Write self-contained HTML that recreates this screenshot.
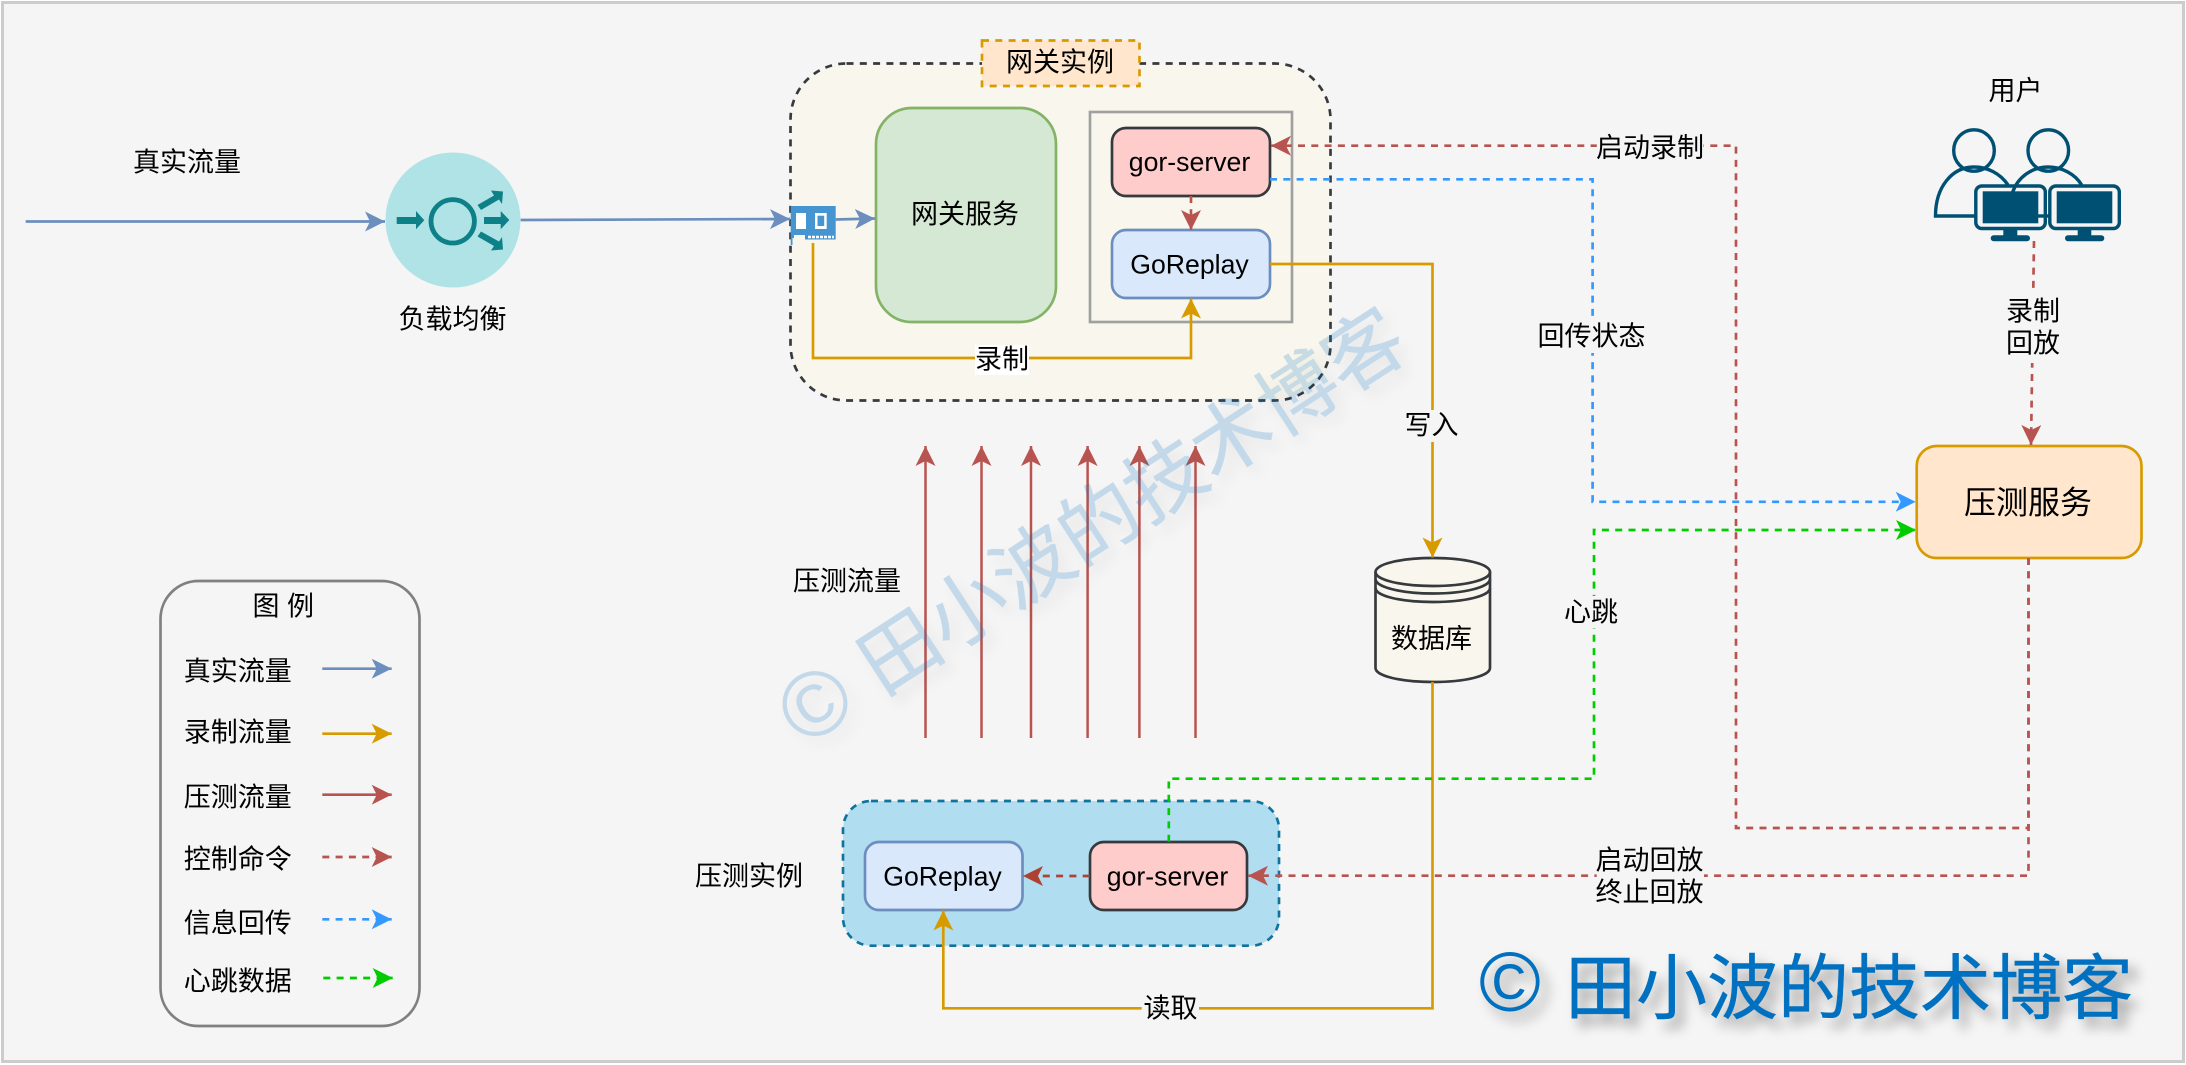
<!DOCTYPE html>
<html><head><meta charset="utf-8"><style>
html,body{margin:0;padding:0;background:#fff}
svg{display:block}
text{font-family:"Liberation Sans","Noto Sans CJK SC",sans-serif;font-size:27px;fill:#000;text-anchor:middle}
text.en{font-size:26.67px}
</style></head><body>
<svg width="2186" height="1065" viewBox="0 0 2186 1065" xmlns="http://www.w3.org/2000/svg">
<defs>
<marker id="mb" markerUnits="userSpaceOnUse" markerWidth="20" markerHeight="20" refX="20" refY="10" orient="auto"><path d="M0,0L20,10L0,20L5,10z" fill="#6c8ebf"/></marker>
<marker id="mo" markerUnits="userSpaceOnUse" markerWidth="20" markerHeight="20" refX="20" refY="10" orient="auto"><path d="M0,0L20,10L0,20L5,10z" fill="#d79b00"/></marker>
<marker id="mr" markerUnits="userSpaceOnUse" markerWidth="20" markerHeight="20" refX="20" refY="10" orient="auto"><path d="M0,0L20,10L0,20L5,10z" fill="#b85450"/></marker>
<marker id="md" markerUnits="userSpaceOnUse" markerWidth="20" markerHeight="20" refX="20" refY="10" orient="auto"><path d="M0,0L20,10L0,20L5,10z" fill="#ae4132"/></marker>
<marker id="ml" markerUnits="userSpaceOnUse" markerWidth="20" markerHeight="20" refX="20" refY="10" orient="auto"><path d="M0,0L20,10L0,20L5,10z" fill="#3399ff"/></marker>
<marker id="mg" markerUnits="userSpaceOnUse" markerWidth="20" markerHeight="20" refX="20" refY="10" orient="auto"><path d="M0,0L20,10L0,20L5,10z" fill="#00cc00"/></marker>
</defs>
<rect x="2.5" y="2.5" width="2181" height="1059" fill="#f5f5f5" stroke="#ccc" stroke-width="3"/>

<!-- Gateway container -->
<rect x="790.5" y="63.5" width="540" height="337" rx="56" fill="#f9f7ed" stroke="#36393d" stroke-width="2.67" stroke-dasharray="7 6.3"/>
<rect x="982" y="40.5" width="157.5" height="45.5" fill="#ffe6cc" stroke="#d79b00" stroke-width="2.67" stroke-dasharray="7 6.3"/>
<text x="1060" y="71.5">网关实例</text>
<rect x="876" y="108" width="180" height="214" rx="36" fill="#d5e8d4" stroke="#82b366" stroke-width="2.67"/>
<text x="965" y="223.5">网关服务</text>
<rect x="1090" y="112" width="202" height="210" fill="none" stroke="#a0a0a0" stroke-width="2.67"/>
<rect x="1112" y="128" width="158" height="68" rx="14" fill="#ffcccc" stroke="#36393d" stroke-width="2.67"/>
<text class="en" x="1189.5" y="171">gor-server</text>
<rect x="1112" y="230" width="158" height="68" rx="14" fill="#dae8fc" stroke="#6c8ebf" stroke-width="2.67"/>
<text class="en" x="1189.5" y="273.5">GoReplay</text>

<!-- Load test instance -->
<rect x="843" y="801" width="436" height="144.7" rx="28" fill="#b1ddf0" stroke="#10739e" stroke-width="2.67" stroke-dasharray="7 6.3"/>
<rect x="865" y="842" width="157.5" height="68" rx="14" fill="#dae8fc" stroke="#6c8ebf" stroke-width="2.67"/>
<text class="en" x="942.5" y="885.5">GoReplay</text>
<rect x="1090" y="842" width="157" height="68" rx="14" fill="#ffcccc" stroke="#36393d" stroke-width="2.67"/>
<text class="en" x="1167.5" y="885.5">gor-server</text>
<text x="749" y="885.5">压测实例</text>

<!-- Press service -->
<rect x="1916.7" y="446" width="224.8" height="112" rx="20" fill="#ffe6cc" stroke="#d79b00" stroke-width="2.67"/>
<text x="2028" y="513.5" style="font-size:32px">压测服务</text>

<!-- DB -->
<path d="M1375.5,572C1375.5,564 1401,558 1433,558C1465,558 1490,564 1490,572V668C1490,676 1465,682 1433,682C1401,682 1375.5,676 1375.5,668Z" fill="#f9f7ed" stroke="#36393d" stroke-width="2.67"/>
<path d="M1375.5,572C1375.5,580 1401,586 1433,586C1465,586 1490,580 1490,572M1375.5,579C1375.5,587 1401,593.5 1433,593.5C1465,593.5 1490,587 1490,579M1375.5,588C1375.5,596 1401,602 1433,602C1465,602 1490,596 1490,588" fill="none" stroke="#36393d" stroke-width="2.67"/>
<text x="1431.5" y="648">数据库</text>

<!-- Load balancer -->
<circle cx="453" cy="220" r="67.5" fill="#b0e3e6"/>
<circle cx="452.7" cy="221.3" r="21.7" fill="none" stroke="#0e8088" stroke-width="4.8"/>
<path d="M396.7,217H416V211L424.3,220.3L416,229.3V224H396.7Z" fill="#0e8088"/>
<path d="M484,217H500.7V211L509.3,220L500.7,229.3V224H484Z" fill="#0e8088"/>
<path d="M477.5,205L494,195.5L491,190.5L503,191.5L502,204L499,199.5L481,210Z" fill="#0e8088"/>
<path d="M481,231.5L499,241.5L502,237L503,249.5L491,250.5L494,246L477.5,236.5Z" fill="#0e8088"/>

<!-- NIC -->
<path d="M790.7,206H835.7V239.5H805V235H794V238H792.5V245H790.7Z" fill="#4495d1"/>
<rect x="796" y="213" width="10" height="16" fill="#fff"/>
<rect x="815" y="213" width="11.7" height="16" fill="#fff"/>
<rect x="817.5" y="215.7" width="6.7" height="10.3" fill="#4495d1"/>
<path d="M808,237H834" stroke="#fff" stroke-width="2.4" stroke-dasharray="3 1" fill="none"/>

<!-- Real traffic -->
<g fill="none" stroke="#6c8ebf" stroke-width="2.67">
<path d="M25.7,221.5H385" marker-end="url(#mb)"/>
<path d="M520.7,220L790,219" marker-end="url(#mb)"/>
<path d="M835.7,219.5L875,218.5" marker-end="url(#mb)"/>
</g>

<!-- Record traffic -->
<g fill="none" stroke="#d79b00" stroke-width="2.67">
<path d="M813,243V358H1191V298.5" marker-end="url(#mo)"/>
<path d="M1270,264H1432.5V557.5" marker-end="url(#mo)"/>
<path d="M1432.5,682V1008.3H943.3V910.5" marker-end="url(#mo)"/>
</g>

<!-- Press arrows -->
<g fill="none" stroke="#b85450" stroke-width="2.5">
<path d="M925.5,738V446" marker-end="url(#mr)"/>
<path d="M981.5,738V446" marker-end="url(#mr)"/>
<path d="M1031,738V446" marker-end="url(#mr)"/>
<path d="M1087.6,738V446" marker-end="url(#mr)"/>
<path d="M1139.4,738V446" marker-end="url(#mr)"/>
<path d="M1195.5,738V446" marker-end="url(#mr)"/>
</g>
<text x="847" y="590.3">压测流量</text>

<!-- Dashed control -->
<g fill="none" stroke-width="2.67" stroke-dasharray="7 6.3">
<path d="M2028.5,558V828H1736V145.7H1271" stroke="#b85450" marker-end="url(#mr)"/>
<path d="M2028.5,558V875.7H1248" stroke="#b85450" marker-end="url(#mr)"/>
<path d="M2034,241L2031,445" stroke="#b85450" marker-end="url(#mr)"/>
<path d="M1191,196V230" stroke="#b85450" marker-end="url(#mr)"/>
<path d="M1089.7,876H1023" stroke="#ae4132" marker-end="url(#md)"/>
<path d="M1270,179.3H1592.6V501.8H1915.7" stroke="#3399ff" marker-end="url(#ml)"/>
<path d="M1168.8,841.7V778.7H1594V530H1916" stroke="#00cc00" marker-end="url(#mg)"/>
</g>

<!-- Edge labels -->
<rect x="975" y="345" width="54" height="30" fill="#fff"/>
<text x="1002" y="368.5">录制</text>
<rect x="1405" y="410" width="55" height="32" fill="#f5f5f5"/>
<text x="1431.5" y="434.5">写入</text>
<rect x="1141.7" y="993" width="57.3" height="30" fill="#f5f5f5"/>
<text x="1170.5" y="1017.3">读取</text>
<rect x="1596.8" y="130" width="106.7" height="32" fill="#f5f5f5"/>
<text x="1650" y="157">启动录制</text>
<rect x="1538.8" y="320" width="106.7" height="33" fill="#f5f5f5"/>
<text x="1591.5" y="345.4">回传状态</text>
<rect x="1564" y="596" width="54" height="32" fill="#f5f5f5"/>
<text x="1591" y="621.6">心跳</text>
<rect x="2006" y="289" width="56" height="74" fill="#f5f5f5"/>
<text x="2033" y="320.6">录制</text>
<text x="2033" y="352.3">回放</text>
<rect x="1596.7" y="845" width="107.3" height="62" fill="#f5f5f5"/>
<text x="1649.5" y="869.6">启动回放</text>
<text x="1649.5" y="901.3">终止回放</text>

<text x="187" y="171.3">真实流量</text>
<text x="452.5" y="328.6">负载均衡</text>
<text x="2015.5" y="99.9">用户</text>

<!-- Users icon -->
<g fill="none" stroke="#005073" stroke-width="3.4">
<ellipse cx="1974" cy="150.5" rx="20.3" ry="20.7"/>
<ellipse cx="2048.3" cy="150.5" rx="20.3" ry="20.7"/>
<path d="M2008,185C2000,173 1987,167 1974,167C1952,167 1935.5,187 1935.5,216H1974.5"/>
<path d="M2012.7,192C2018,177 2032,167 2048,167C2062,167 2075,174 2081.7,185"/>
<rect x="1975.8" y="186" width="69.5" height="42.5" rx="6"/>
<rect x="2049.8" y="186" width="69.5" height="42.5" rx="6"/>
<path d="M2038,216H2050"/>
</g>
<g fill="#005073">
<rect x="1982.7" y="191.3" width="55.6" height="32"/>
<rect x="2056.7" y="191.3" width="55.6" height="32"/>
<rect x="2003.3" y="229" width="14" height="7"/>
<rect x="2077.7" y="229" width="13.6" height="7"/>
<rect x="1990.7" y="235.3" width="39.3" height="6" rx="3"/>
<rect x="2065" y="235.3" width="39.3" height="6" rx="3"/>
</g>

<!-- Legend -->
<rect x="160.5" y="581" width="259" height="445" rx="38" fill="none" stroke="#808080" stroke-width="2.67"/>
<text x="283.2" y="615.3">图 例</text>
<text x="237.8" y="680.3">真实流量</text>
<text x="237.8" y="741.3">录制流量</text>
<text x="237.8" y="806.3">压测流量</text>
<text x="237.8" y="868.6">控制命令</text>
<text x="237.8" y="932.3">信息回传</text>
<text x="237.8" y="990.3">心跳数据</text>
<g fill="none" stroke-width="2.67">
<path d="M322.3,668.7H391.7" stroke="#6c8ebf" marker-end="url(#mb)"/>
<path d="M322.3,733.7H391.7" stroke="#d79b00" marker-end="url(#mo)"/>
<path d="M322.3,794.7H391.7" stroke="#b85450" marker-end="url(#mr)"/>
<path d="M322.3,857H391.7" stroke="#b85450" stroke-dasharray="7 6.3" marker-end="url(#mr)"/>
<path d="M322.3,919.3H391.7" stroke="#3399ff" stroke-dasharray="7 6.3" marker-end="url(#ml)"/>
<path d="M323.3,978H392.7" stroke="#00cc00" stroke-dasharray="7 6.3" marker-end="url(#mg)"/>
</g>

<!-- Rotated watermark -->
<g style="filter:drop-shadow(8px 8px 7px rgba(0,0,0,.3));opacity:.2">
<g transform="translate(816,705) rotate(-33)">
<text x="0" y="30" style="font-size:92px;fill:#0070c0">©</text>
<text x="60" y="29" style="font-size:79px;fill:#0070c0;stroke:#0070c0;stroke-width:.6;text-anchor:start">田小波的技术博客</text>
</g>
</g>

<!-- Bottom watermark -->
<g style="filter:drop-shadow(8px 9px 6px rgba(0,0,0,.35))">
<text x="1510" y="1011" style="font-size:84px;fill:#0070c0">©</text>
<text x="1565" y="1013" style="font-size:71px;fill:#0070c0;stroke:#0070c0;stroke-width:.5;text-anchor:start">田小波的技术博客</text>
</g>
</svg>
</body></html>
